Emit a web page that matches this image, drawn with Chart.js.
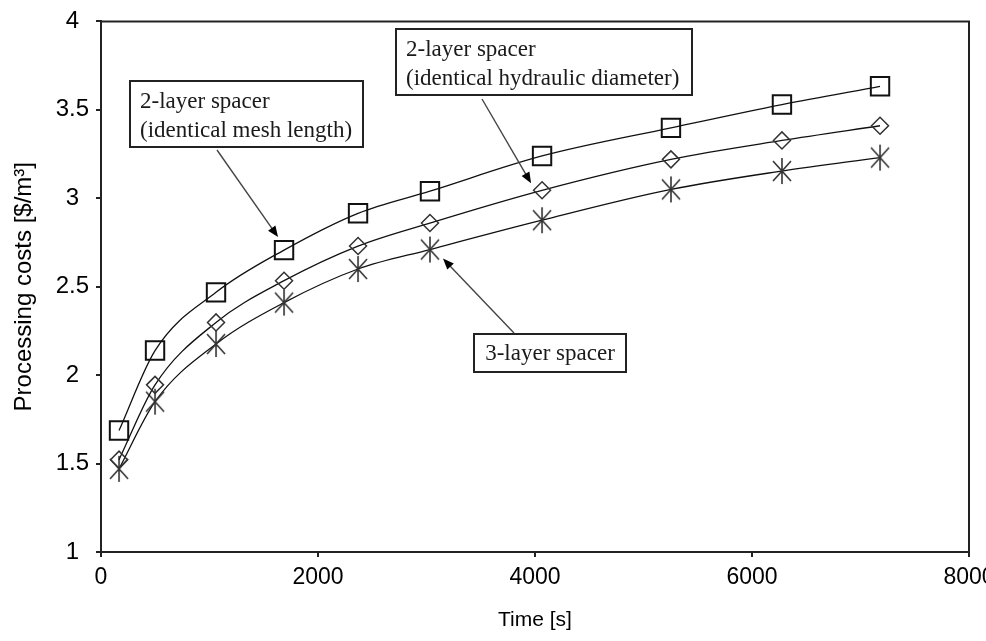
<!DOCTYPE html>
<html>
<head>
<meta charset="utf-8">
<script src="https://cdn.jsdelivr.net/npm/chart.js@4.4.1/dist/chart.umd.min.js"></script>
<style>
  body { margin: 0; background: #fff; }
  canvas { display: block; }
</style>
</head>
<body>
<canvas id="costChart" width="986" height="641"></canvas>
<script>
// operating time [s]
var times = [166, 498, 1060, 1687, 2369, 3032, 4065, 5253, 6276, 7180];

// processing costs [$/m3]
var meshLength = [1.687, 2.139, 2.468, 2.707, 2.915, 3.04, 3.239, 3.398, 3.53, 3.633];
var hydraulicDiameter = [1.522, 1.945, 2.298, 2.534, 2.73, 2.86, 3.045, 3.22, 3.327, 3.41];
var threeLayer = [1.47, 1.85, 2.176, 2.41, 2.6, 2.71, 2.876, 3.05, 3.154, 3.23];

var xTicks = [0, 2000, 4000, 6000, 8000];
var yTicks = [1, 1.5, 2, 2.5, 3, 3.5, 4];

function toPoints(ys) {
  return ys.map(function (y, i) { return { x: times[i], y: y }; });
}

// asterisk marker: vertical bar plus two diagonals
function makeAsterisk() {
  var c = document.createElement('canvas');
  c.width = 28;
  c.height = 28;
  var g = c.getContext('2d');
  g.strokeStyle = '#333';
  g.lineWidth = 1.6;
  g.beginPath();
  g.moveTo(14, 1); g.lineTo(14, 27);
  g.moveTo(5, 4); g.lineTo(23, 24);
  g.moveTo(23, 4); g.lineTo(5, 24);
  g.stroke();
  return c;
}

var notes = [
  { lines: ['2-layer spacer', '(identical mesh length)'], box: [130, 81, 233, 66], from: [217, 150], ds: 0, idx: 3, off: [-6, -13] },
  { lines: ['2-layer spacer', '(identical hydraulic diameter)'], box: [396, 29, 296, 66], from: [482, 99], ds: 1, idx: 6, off: [-11, -7] },
  { lines: ['3-layer spacer'], box: [474, 334, 152, 38], from: [514, 333], ds: 2, idx: 5, off: [13, 9] }
];

function arrow(ctx, x1, y1, x2, y2) {
  var a = Math.atan2(y2 - y1, x2 - x1);
  var len = 11, w = 4.5;
  ctx.strokeStyle = '#444';
  ctx.lineWidth = 1.4;
  ctx.beginPath();
  ctx.moveTo(x1, y1);
  ctx.lineTo(x2 - Math.cos(a) * len * 0.8, y2 - Math.sin(a) * len * 0.8);
  ctx.stroke();
  ctx.fillStyle = '#000';
  ctx.beginPath();
  ctx.moveTo(x2, y2);
  ctx.lineTo(x2 - Math.cos(a) * len - Math.sin(a) * w, y2 - Math.sin(a) * len + Math.cos(a) * w);
  ctx.lineTo(x2 - Math.cos(a) * len + Math.sin(a) * w, y2 - Math.sin(a) * len - Math.cos(a) * w);
  ctx.closePath();
  ctx.fill();
}

var frameAndNotes = {
  id: 'frameAndNotes',
  afterDraw: function (chart) {
    var ctx = chart.ctx;
    var area = chart.chartArea;
    ctx.save();
    ctx.strokeStyle = '#222';
    ctx.lineWidth = 2;
    ctx.beginPath();
    ctx.moveTo(area.left, area.top);
    ctx.lineTo(area.right, area.top);
    ctx.lineTo(area.right, area.bottom);
    ctx.stroke();

    notes.forEach(function (n) {
      var b = n.box;
      ctx.fillStyle = '#fff';
      ctx.fillRect(b[0], b[1], b[2], b[3]);
      ctx.strokeStyle = '#222';
      ctx.lineWidth = 2;
      ctx.strokeRect(b[0], b[1], b[2], b[3]);
      ctx.fillStyle = '#1a1a1a';
      ctx.font = '23px "Liberation Serif", "Times New Roman", serif';
      ctx.textBaseline = 'middle';
      if (n.lines.length === 1) {
        ctx.textAlign = 'center';
        ctx.fillText(n.lines[0], b[0] + b[2] / 2, b[1] + b[3] / 2 + 1);
      } else {
        ctx.textAlign = 'left';
        ctx.fillText(n.lines[0], b[0] + 10, b[1] + 21);
        ctx.fillText(n.lines[1], b[0] + 10, b[1] + 50);
      }
      var pt = chart.getDatasetMeta(n.ds).data[n.idx];
      arrow(ctx, n.from[0], n.from[1], pt.x + n.off[0], pt.y + n.off[1]);
    });
    ctx.restore();
  }
};

var ctx = document.getElementById('costChart').getContext('2d');
var lineOpts = {
  borderColor: '#111',
  borderWidth: 1.3,
  cubicInterpolationMode: 'monotone',
  showLine: true,
  pointBackgroundColor: 'rgba(0,0,0,0)'
};

var costChart = new Chart(ctx, {
  type: 'scatter',
  data: {
    datasets: [
      Object.assign({
        label: '2-layer spacer (identical mesh length)',
        data: toPoints(meshLength),
        pointStyle: 'rect',
        pointRadius: 13,
        pointBorderColor: '#111',
        pointBorderWidth: 2
      }, lineOpts),
      Object.assign({
        label: '2-layer spacer (identical hydraulic diameter)',
        data: toPoints(hydraulicDiameter),
        pointStyle: 'rectRot',
        pointRadius: 8.5,
        pointBorderColor: '#333',
        pointBorderWidth: 1.5
      }, lineOpts),
      Object.assign({
        label: '3-layer spacer',
        data: toPoints(threeLayer),
        pointStyle: makeAsterisk(),
        pointRadius: 13
      }, lineOpts)
    ]
  },
  options: {
    responsive: false,
    animation: false,
    layout: { padding: { top: 20, right: 17, left: 0, bottom: 0 } },
    plugins: {
      legend: { display: false },
      tooltip: { enabled: false }
    },
    scales: {
      x: {
        type: 'linear',
        min: 0,
        max: 8000,
        afterFit: function (scale) {
          scale.height = 89;
          scale.paddingLeft = 0;
          scale.paddingRight = 0;
        },
        afterBuildTicks: function (scale) {
          scale.ticks = xTicks.map(function (v) { return { value: v }; });
        },
        ticks: {
          color: '#000',
          padding: 7,
          maxRotation: 0,
          font: { family: '"Liberation Sans", Arial, sans-serif', size: 23 },
          callback: function (v) { return String(v); }
        },
        grid: { drawOnChartArea: false, drawTicks: true, tickLength: 5, color: '#222', lineWidth: 2 },
        border: { color: '#222', width: 2 },
        title: {
          display: true,
          text: 'Time [s]',
          color: '#000',
          padding: { top: 0, bottom: 8 },
          font: { family: '"Liberation Sans", Arial, sans-serif', size: 21 }
        }
      },
      y: {
        min: 1,
        max: 4,
        afterFit: function (scale) { scale.width = 101; },
        afterBuildTicks: function (scale) {
          scale.ticks = yTicks.map(function (v) { return { value: v }; });
        },
        ticks: {
          color: '#000',
          padding: 7,
          crossAlign: 'center',
          font: { family: '"Liberation Sans", Arial, sans-serif', size: 24 },
          callback: function (v) { return String(v); }
        },
        grid: { drawOnChartArea: false, drawTicks: true, tickLength: 5, color: '#222', lineWidth: 2 },
        border: { color: '#222', width: 2 },
        title: {
          display: true,
          text: 'Processing costs [$/m³]',
          color: '#000',
          padding: { top: 10, bottom: 0 },
          font: { family: '"Liberation Sans", Arial, sans-serif', size: 24 }
        }
      }
    }
  },
  plugins: [frameAndNotes]
});
</script>
</body>
</html>
